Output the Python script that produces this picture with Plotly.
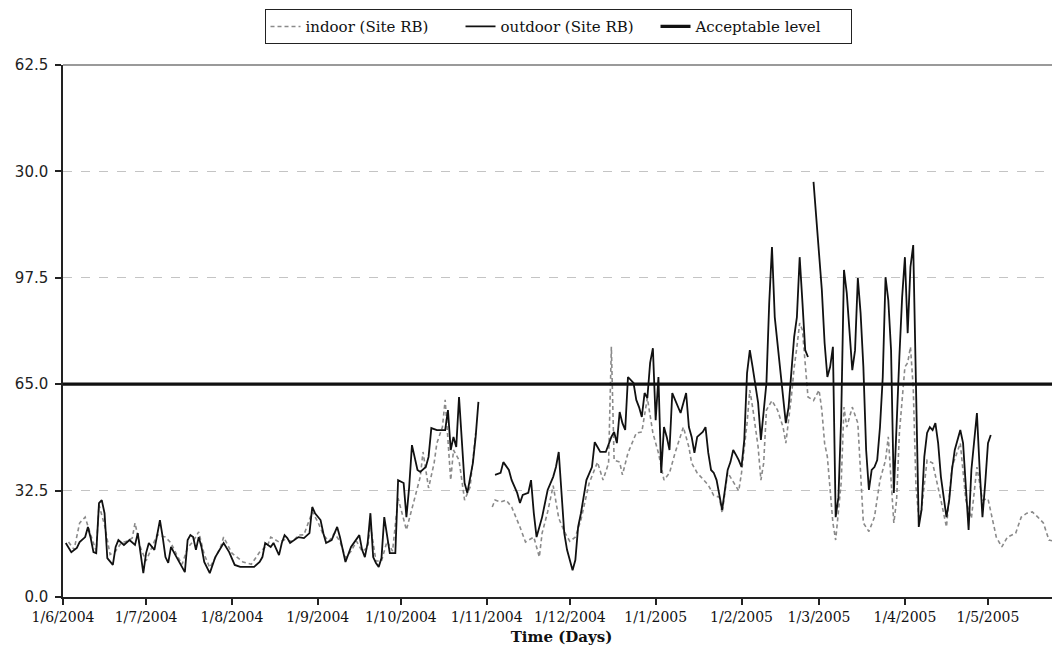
import datetime as dt
import plotly.graph_objects as go

start_date = dt.date(2004, 6, 1)

# days since 1 June 2004, daily PM values (None = gap)
outdoor_days = [1, 3, 5, 6, 8, 9, 10, 11, 12, 13, 14, 15, 16, 18, 19, 20, 22, 24, 26, 27, 28, 29, 30, 31, 33, 35, 36, 37, 38, 39, 40, 42, 44, 45, 46, 47, 48, 49, 50, 51, 53, 55, 57, 58, 60, 62, 64, 67, 69, 71, 72, 73, 75, 76, 78, 79, 80, 81, 82, 85, 87, 89, 90, 91, 93, 94, 95, 97, 99, 100, 102, 104, 105, 107, 108, 109, 110, 111, 112, 113, 114, 115, 116, 117, 118, 120, 121, 123, 124, 125, 126, 128, 129, 131, 132, 133, 135, 137, 138, 139, 140, 141, 142, 143, 144, 145, 146, 147, 148, 149, 150, 151,
                156, 158, 159, 161, 162, 164, 165, 166, 168, 169, 170, 171, 173, 174, 175, 177, 178, 179, 180, 181, 182, 184, 185, 186, 187, 188, 189, 191, 192, 193, 194, 196, 198, 199, 200, 201, 202, 203, 204, 206, 207, 208, 209, 210, 211, 212, 213, 214, 215, 216, 217, 218, 219, 220, 222, 223, 225, 226, 227, 228, 229, 231, 232, 233, 234, 235, 236, 237, 238, 239, 240, 241, 242, 243, 244, 245, 246, 247, 248, 249, 250, 251, 252, 253, 254, 255, 256, 257, 258, 259, 260, 261, 262, 263, 264, 265, 266, 267, 268, 269, 270,
                271, 272, 273, 274, 275, 276, 277, 278, 279, 280, 281, 282, 283, 284, 285, 286, 287, 288, 289, 290, 291, 292, 293, 294, 295, 296, 297, 298, 299, 300, 301, 302, 303, 304, 305, 306, 307, 308, 309, 310, 311, 312, 313, 314, 315, 316, 317, 318, 319, 320, 321, 322, 323, 324, 325, 326, 327, 328, 329, 330, 331, 332, 333, 334, 335]
outdoor_vals = [16.5, 13.7, 15.0, 16.8, 18.3, 21.4, 18.0, 13.7, 13.4, 28.7, 29.6, 25.6, 11.9, 9.8, 15.3, 17.4, 15.9, 17.4, 15.9, 19.5, 13.4, 7.3, 13.4, 16.5, 14.4, 23.5, 18.3, 12.2, 10.4, 15.3, 13.7, 10.7, 7.6, 17.4, 18.9, 18.3, 14.4, 18.3, 15.3, 10.7, 7.3, 12.2, 15.3, 16.5, 13.7, 9.8, 9.2, 9.2, 9.2, 10.7, 12.2, 16.5, 15.3, 16.5, 12.8, 16.5, 18.9, 18.0, 16.5, 18.3, 18.0, 19.5, 27.5, 25.6, 23.5, 19.5, 16.5, 17.4, 21.4, 18.3, 10.7, 15.3, 16.5, 18.9, 14.4, 12.2, 16.5, 25.6, 12.2, 10.4, 9.2, 11.9, 24.4, 18.3, 13.4, 13.4, 35.7, 34.8, 24.4, 33.6, 46.4, 38.8, 38.2, 39.7, 42.8, 51.6, 51.0, 51.0, 51.0, 57.1, 44.9, 48.9, 45.8, 61.1, 48.0, 34.8, 31.8, 36.7, 40.9, 48.9, 59.6, None,
                37.3, 37.9, 41.2, 38.8, 35.7, 31.8, 28.7, 31.2, 31.8, 35.7, 25.6, 18.3, 24.4, 28.7, 32.7, 36.7, 39.7, 44.3, 32.7, 19.5, 14.4, 8.2, 11.3, 21.4, 25.5, 30.0, 35.7, 39.7, 47.3, 45.8, 44.3, 44.3, 48.9, 50.4, 47.0, 56.5, 53.1, 51.0, 67.2, 65.4, 60.2, 58.0, 55.0, 62.3, 60.8, 71.5, 76.0, 54.0, 67.2, 37.9, 51.9, 48.9, 44.9, 62.3, 58.0, 56.2, 62.3, 51.9, 48.9, 44.0, 48.9, 50.4, 51.9, 44.0, 38.8, 37.9, 35.7, 30.5, 26.6, 32.7, 38.8, 41.2, 44.9, 43.4, 41.8, 39.7, 48.0, 68.4, 75.4, 70.3, 65.4, 59.3, 48.0, 56.2, 65.4, 89.8, 106.9, 85.5, 77.6, 69.3, 60.2, 53.1, 58.0, 69.3, 79.4, 85.5, 103.8, 90.0, 75.4, 73.3, None,
                126.8, 116.0, 107.0, 93.8, 77.6, 67.2, 70.3, 76.4, 24.4, 30.5, 55.0, 99.9, 92.9, 79.4, 69.3, 75.4, 97.4, 86.7, 70.3, 44.9, 32.7, 38.8, 39.7, 41.8, 51.9, 67.2, 97.7, 90.7, 75.4, 31.8, 55.0, 73.3, 91.6, 103.8, 80.6, 100.8, 107.5, 62.3, 21.4, 26.6, 42.8, 50.1, 51.9, 51.0, 53.1, 47.0, 36.7, 30.5, 24.4, 29.6, 38.8, 44.9, 48.0, 51.0, 47.0, 34.8, 20.5, 38.8, 47.0, 56.2, 38.8, 24.4, 34.8, 47.0, 49.5]

indoor_days = [2, 4, 6, 8, 10, 12, 13, 15, 17, 19, 21, 23, 25, 26, 28, 30, 32, 34, 37, 39, 41, 43, 45, 47, 49, 51, 53, 55, 57, 58, 61, 65, 68, 71, 74, 75, 78, 80, 83, 85, 87, 90, 92, 94, 96, 98, 100, 102, 104, 106, 108, 110, 111, 113, 115, 117, 119, 121, 124, 127, 129, 130, 132, 134, 135, 137, 138, 140, 141, 143, 145, 147, 149, 150,
               155, 156, 158, 160, 162, 164, 165, 167, 170, 172, 173, 175, 177, 179, 181, 183, 185, 187, 190, 193, 195, 197, 198, 199, 201, 202, 204, 207, 209, 211, 213, 215, 217, 219, 221, 224, 226, 227, 229, 233, 235, 237, 238, 240, 244, 245, 247, 248, 249, 251, 252, 253, 254, 256, 258, 260, 261, 263, 264, 265, 266, 267, 268, 269, 271, 273, 274, 275, 276, 278, 279, 281, 282, 283, 285, 287, 289, 291, 293, 295, 297, 298, 300, 301, 302, 303, 304, 305, 306, 307, 308, 309, 310, 312, 314, 317, 319, 321, 324, 326, 328, 330, 332, 334, 337, 339, 341, 344, 346, 348, 350, 352, 354, 356, 359, 361]
indoor_vals = [16.8, 14.5, 22.6, 24.4, 19.0, 14.0, 28.1, 22.0, 13.0, 14.0, 16.5, 17.0, 18.0, 22.6, 15.0, 11.0, 15.0, 19.0, 18.3, 16.5, 13.0, 10.0, 15.0, 17.0, 19.9, 13.0, 9.0, 12.0, 15.5, 18.3, 13.4, 10.7, 10.0, 13.7, 16.0, 18.3, 16.8, 17.5, 17.0, 18.9, 19.0, 26.0, 23.0, 19.0, 17.0, 19.5, 17.0, 12.0, 14.0, 17.0, 14.0, 15.0, 22.0, 11.0, 11.0, 17.0, 14.0, 30.2, 20.5, 30.0, 36.7, 44.3, 33.3, 40.9, 47.0, 51.9, 60.2, 35.7, 44.9, 41.8, 29.6, 33.6, 50.1, None,
               27.5, 29.6, 29.0, 29.6, 27.5, 23.5, 21.4, 16.8, 18.3, 12.2, 19.5, 26.0, 34.0, 24.1, 20.0, 17.0, 18.3, 23.5, 34.8, 41.2, 35.7, 40.9, 76.4, 41.8, 41.2, 37.3, 44.0, 50.1, 50.4, 60.8, 50.1, 44.0, 35.7, 37.9, 44.0, 51.9, 45.8, 40.9, 37.9, 34.2, 31.0, 30.5, 25.6, 38.0, 32.4, 37.9, 53.1, 63.2, 58.0, 45.8, 35.7, 40.9, 57.1, 60.0, 57.1, 51.9, 47.0, 61.1, 70.0, 76.4, 83.7, 81.5, 71.5, 61.1, 60.0, 63.2, 57.1, 47.0, 42.8, 22.6, 17.4, 35.0, 58.0, 51.9, 58.0, 53.1, 22.6, 20.0, 24.4, 35.7, 41.8, 48.9, 22.6, 29.6, 50.1, 59.3, 70.3, 71.5, 76.4, 64.1, 33.6, 24.4, 26.6, 41.8, 40.9, 29.6, 21.4, 39.7, 47.0, 29.6, 24.0, 39.7, 29.6, 30.0, 18.3, 15.3, 18.3, 19.5, 24.4, 25.6, 26.0, 24.4, 22.6, 17.4, 16.8, 16.5]

acceptable_level = 65.0
series_names = ["indoor (Site RB)", "outdoor (Site RB)", "Acceptable level"]
x_range = ["2004-06-01", "2005-05-27"]
x_tick_dates = ["2004-06-01", "2004-07-01", "2004-08-01", "2004-09-01", "2004-10-01", "2004-11-01",
                "2004-12-01", "2005-01-01", "2005-02-01", "2005-03-01", "2005-04-01", "2005-05-01"]
x_tick_labels = ["1/6/2004", "1/7/2004", "1/8/2004", "1/9/2004", "1/10/2004", "1/11/2004",
                 "1/12/2004", "1/1/2005", "1/2/2005", "1/3/2005", "1/4/2005", "1/5/2005"]
y_tick_vals = [0.0, 32.5, 65.0, 97.5, 130.0, 162.5]
y_tick_labels = ["0.0", "32.5", "65.0", "97.5", "30.0", "62.5"]
x_title = "Time (Days)"


def to_dates(days):
    return [(start_date + dt.timedelta(days=d)).isoformat() for d in days]


fig = go.Figure()
fig.add_trace(go.Scatter(x=to_dates(indoor_days), y=indoor_vals, mode="lines", name=series_names[0],
                         line=dict(color="#8a8a8a", width=1.6, dash="4px,3px"), connectgaps=False))
fig.add_trace(go.Scatter(x=to_dates(outdoor_days), y=outdoor_vals, mode="lines", name=series_names[1],
                         line=dict(color="#111111", width=1.8), connectgaps=False))
fig.add_trace(go.Scatter(x=x_range, y=[acceptable_level, acceptable_level], mode="lines", name=series_names[2],
                         line=dict(color="#111111", width=3.2)))

serif = "DejaVu Serif"
# page body has an 8px default margin; figure sized so the page fits the 1060x670 window
fig.update_layout(
    width=1052, height=654,
    margin=dict(l=55, r=0, t=57, b=65, autoexpand=False),
    paper_bgcolor="white", plot_bgcolor="white",
    showlegend=True,
    legend=dict(orientation="h", x=0.4965, xanchor="center", y=1.072, yanchor="middle",
                bordercolor="#222222", borderwidth=1, bgcolor="white",
                font=dict(family=serif, size=15, color="#111111"),
                itemwidth=30, entrywidth=150, entrywidthmode="pixels", tracegroupgap=0),
    shapes=[dict(type="line", xref="paper", yref="paper", x0=0, x1=1, y0=1, y1=1,
                 line=dict(color="#9a9a9a", width=2))],
)
fig.update_xaxes(type="date", range=x_range, tickvals=x_tick_dates, ticktext=x_tick_labels,
                 showgrid=False, showline=True, linecolor="#222222", linewidth=1.5,
                 ticks="outside", ticklen=6, tickcolor="#222222", tickwidth=1.5,
                 tickfont=dict(family=serif, size=14, color="#111111"),
                 title=dict(text="<b>" + x_title + "</b>", font=dict(family=serif, size=15, color="#111111"),
                            standoff=8))
fig.update_yaxes(range=[0, 162.5], tickvals=y_tick_vals, ticktext=y_tick_labels,
                 showgrid=True, gridcolor="#c4c4c4", griddash="dash", gridwidth=1.3,
                 zeroline=False, showline=True, linecolor="#222222", linewidth=1.5,
                 ticks="outside", ticklen=6, tickcolor="#222222", tickwidth=1.5, ticklabelstandoff=4,
                 tickfont=dict(family="DejaVu Sans", size=15, color="#222222"))

fig.write_html("out.html")
